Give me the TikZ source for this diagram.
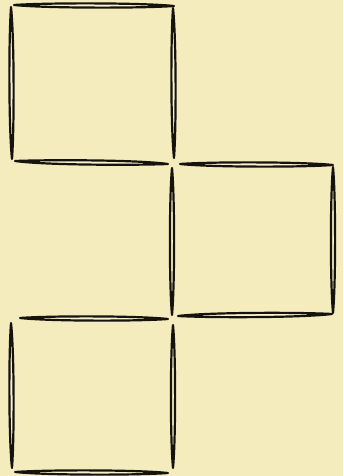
\documentclass[tikz,border=0pt]{standalone}
\definecolor{paper}{RGB}{245,236,190}
\definecolor{ink}{RGB}{22,18,14}
\tikzset{matchst/.style={draw=ink,line width=2.2pt,fill=paper!70!white,line join=round}}
% near-horizontal match: x1 y1 x2 y2
\newcommand\mh[4]{\draw[matchst] (#1,#2) .. controls ({#1+0.2*(#3-#1)},{0.5*(#2+#4)-2.8}) and ({#3-0.2*(#3-#1)},{0.5*(#2+#4)-2.8}) .. (#3,#4) .. controls ({#3-0.2*(#3-#1)},{0.5*(#2+#4)+2.8}) and ({#1+0.2*(#3-#1)},{0.5*(#2+#4)+2.8}) .. cycle;}
% near-vertical match: x1 y1 x2 y2
\newcommand\mv[4]{\draw[matchst] (#1,#2) .. controls ({0.5*(#1+#3)-2.8},{#2+0.2*(#4-#2)}) and ({0.5*(#1+#3)-2.8},{#4-0.2*(#4-#2)}) .. (#3,#4) .. controls ({0.5*(#1+#3)+2.8},{#4-0.2*(#4-#2)}) and ({0.5*(#1+#3)+2.8},{#2+0.2*(#4-#2)}) .. cycle;}
\begin{document}
\begin{tikzpicture}[x=1pt,y=-1pt]
\fill[paper] (0,0) rectangle (343,476);
\useasboundingbox (0,0) rectangle (343,476);
% square 1 (top left)
\mh{14}{5}{174}{6}
\mv{11}{7}{12}{159}
\mv{173}{8}{174}{158}
\mh{15}{161}{168}{164}
% square 2 (middle right)
\mh{180}{164}{333}{165}
\mv{172}{168}{172}{315}
\mv{333}{167}{333}{313}
\mh{178}{316}{332}{314}
% square 3 (bottom left)
\mh{20}{318}{168}{319}
\mv{11}{323}{12}{468}
\mv{173}{325}{173}{468}
\mh{15}{472}{168}{473}
\end{tikzpicture}
\end{document}
